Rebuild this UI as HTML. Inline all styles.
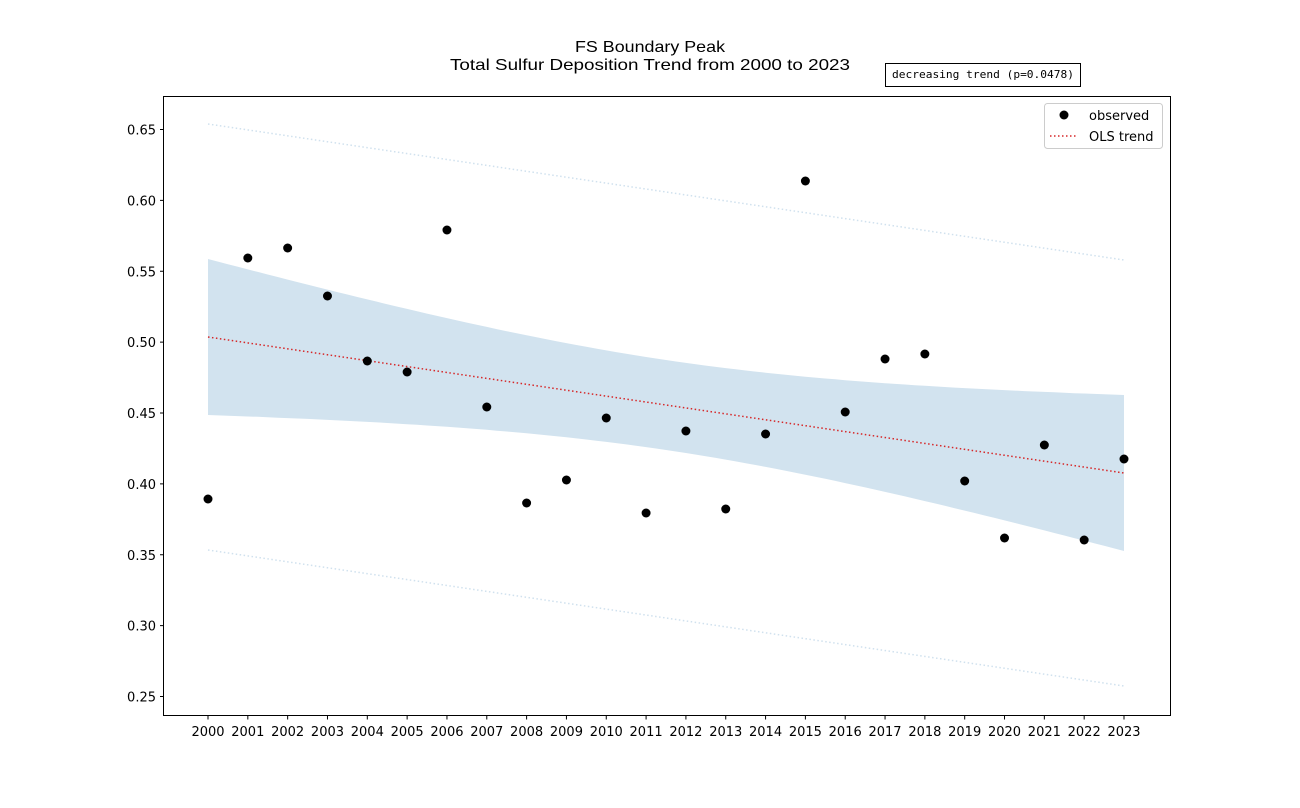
<!DOCTYPE html>
<html><head><meta charset="utf-8"><style>
body{margin:0;background:#fff;}
svg text{font-family:"DejaVu Sans","Liberation Sans",sans-serif;font-size:13px;fill:#000;}
</style></head><body>
<svg id="s" width="1300" height="803" xmlns="http://www.w3.org/2000/svg">
<rect width="1300" height="803" fill="#fff"/>
<g id="band"></g>
<line x1="208" y1="124" x2="1124" y2="260" stroke="#d0e1ee" stroke-width="1.5" stroke-dasharray="1.5,2.5"/>
<line x1="208" y1="550" x2="1124" y2="686" stroke="#d0e1ee" stroke-width="1.5" stroke-dasharray="1.5,2.5"/>
<line x1="208" y1="337" x2="1124" y2="473" stroke="#d62728" stroke-width="1.5" stroke-dasharray="1.5,2.5"/>
<g id="pts"></g>
<rect x="163.5" y="96.5" width="1007" height="619" fill="none" stroke="#000" stroke-width="1"/>
<g id="ticks"></g>
<text x="575" y="52" textLength="150" lengthAdjust="spacingAndGlyphs" style="font-family:'Liberation Sans',sans-serif;font-size:16px">FS Boundary Peak</text>
<text x="450" y="70" textLength="400" lengthAdjust="spacingAndGlyphs" style="font-family:'Liberation Sans',sans-serif;font-size:16px">Total Sulfur Deposition Trend from 2000 to 2023</text>
<rect x="885.5" y="63.5" width="195" height="23" fill="#fff" stroke="#000"/>
<text x="892" y="78" textLength="182" lengthAdjust="spacingAndGlyphs" style="font-family:'DejaVu Sans Mono','Liberation Mono',monospace;font-size:11px">decreasing trend (p=0.0478)</text>
<rect x="1044.5" y="103.5" width="118" height="45" rx="3" fill="#fff" fill-opacity="0.8" stroke="#ccc"/>
<circle cx="1064" cy="115" r="4.5" fill="#000"/>
<text x="1089" y="120">observed</text>
<line x1="1050" y1="136" x2="1078" y2="136" stroke="#d62728" stroke-width="1.5" stroke-dasharray="1.5,2.5"/>
<text x="1089" y="141">OLS trend</text>
</svg>
<script>
var ns="http://www.w3.org/2000/svg";
function X(i){return 208+916/23*i;}
function T(x){return 337+(x-208)/916*136;}
function O(x){return Math.sqrt(2025+0.01935*(x-666)*(x-666));}
var up=[],lo=[];
for(var k=0;k<=92;k++){var x=208+k*916/92;up.push(x.toFixed(1)+","+(T(x)-O(x)).toFixed(1));lo.unshift(x.toFixed(1)+","+(T(x)+O(x)).toFixed(1));}
var p=document.createElementNS(ns,"path");p.setAttribute("d","M"+up.join("L")+"L"+lo.join("L")+"Z");p.setAttribute("fill","#d2e3ef");
document.getElementById("band").appendChild(p);
var ys=[499,258,248,296,361,372,230,407,503,480,418,513,431,509,434,181,412,359,354,481,538,445,540,459];
var g=document.getElementById("pts");
ys.forEach(function(y,i){var c=document.createElementNS(ns,"circle");c.setAttribute("cx",X(i));c.setAttribute("cy",y);c.setAttribute("r",4.5);g.appendChild(c);});
var t=document.getElementById("ticks"),h="";
for(var i=0;i<24;i++){var x=X(i);h+='<line x1="'+x+'" y1="716" x2="'+x+'" y2="719.5" stroke="#000"/><text x="'+x+'" y="736" text-anchor="middle">'+(2000+i)+'</text>';}
for(var j=0;j<9;j++){var v=0.25+0.05*j,y=696.5-j*70.875;h+='<line x1="160" y1="'+y+'" x2="163.5" y2="'+y+'" stroke="#000"/><text x="156" y="'+(y+5)+'" text-anchor="end">'+v.toFixed(2)+'</text>';}
t.innerHTML=h;
</script>
</body></html>
